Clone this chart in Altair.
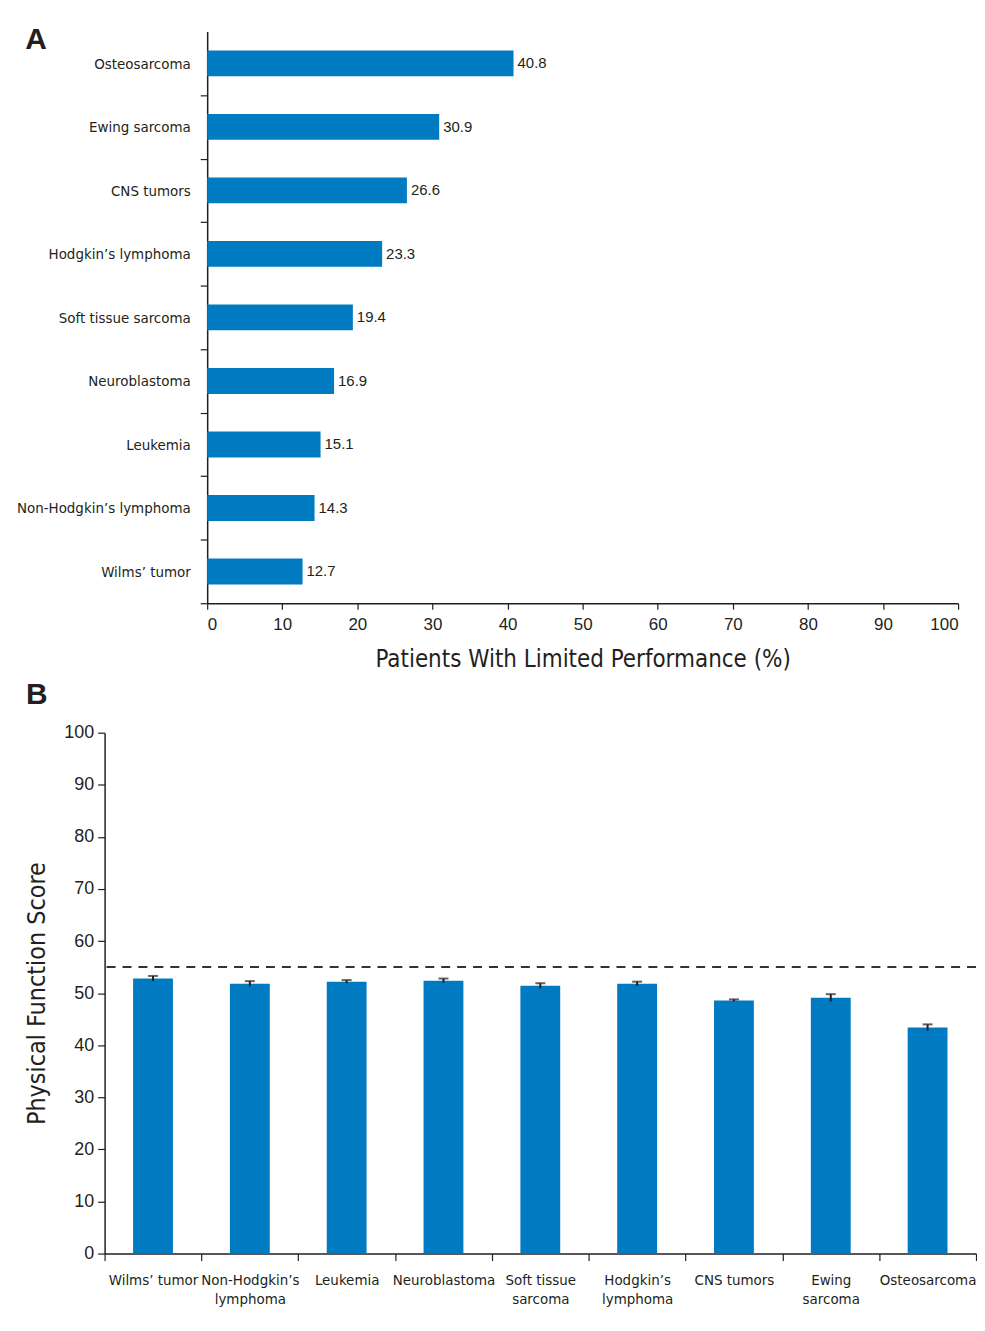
import altair as alt
import pandas as pd

# Panel A data
a_categories = ["Osteosarcoma", "Ewing sarcoma", "CNS tumors", "Hodgkin’s lymphoma",
                "Soft tissue sarcoma", "Neuroblastoma", "Leukemia",
                "Non-Hodgkin’s lymphoma", "Wilms’ tumor"]
a_values = [40.8, 30.9, 26.6, 23.3, 19.4, 16.9, 15.1, 14.3, 12.7]

# Panel B data
b_categories = ["Wilms’ tumor", "Non-Hodgkin’s lymphoma", "Leukemia", "Neuroblastoma",
                "Soft tissue sarcoma", "Hodgkin’s lymphoma", "CNS tumors",
                "Ewing sarcoma", "Osteosarcoma"]
b_means = [52.8, 51.8, 52.2, 52.4, 51.4, 51.8, 48.6, 49.1, 43.4]
b_errors = [0.5, 0.5, 0.3, 0.4, 0.5, 0.4, 0.2, 0.7, 0.6]
b_two_line = ["Non-Hodgkin’s lymphoma", "Soft tissue sarcoma",
              "Hodgkin’s lymphoma", "Ewing sarcoma"]
reference_score = [55]

BLUE = "#007BC1"
DARK = "#231F20"
NARROW = "Liberation Sans Narrow, DejaVu Sans Condensed, Arial Narrow, sans-serif"
SANS = "Liberation Sans, Arial, sans-serif"

# layout: both panels share the same origin; panel A's plot is shifted right
A_SHIFT = 103
A_WIDTH = 754

df_a = pd.DataFrame({"cat": a_categories, "val": a_values})
df_b = pd.DataFrame({"cat": b_categories, "mean": b_means, "err": b_errors})
df_b["lo"] = df_b["mean"] - df_b["err"]
df_b["hi"] = df_b["mean"] + df_b["err"]
df_ref = pd.DataFrame({"y": reference_score})

# ---------- Panel A ----------
ya = alt.Y("cat:N", sort=a_categories,
           scale=alt.Scale(paddingInner=0, paddingOuter=0),
           axis=alt.Axis(title=None, tickBand="extent", labelFont=NARROW,
                         labelFontSize=15, labelColor=DARK, labelPadding=10,
                         tickSize=7, tickColor=DARK, domainColor=DARK,
                         tickOpacity={"condition": {"test": "datum.index < 0", "value": 0},
                                      "value": 1},
                         domainWidth=1.5, tickWidth=1.2, offset=-A_SHIFT))
xa = alt.X("val:Q", scale=alt.Scale(domain=[0, 100], nice=False,
                                    range=[A_SHIFT, A_SHIFT + A_WIDTH]),
           axis=alt.Axis(title="Patients With Limited Performance (%)",
                         values=list(range(0, 101, 10)), grid=False,
                         labelFont=SANS, labelFontSize=17, labelColor=DARK,
                         titleFont=NARROW, titleFontSize=24, titleFontWeight="normal",
                         titleColor=DARK, titlePadding=16,
                         titleX=A_SHIFT + A_WIDTH / 2,
                         tickSize=6, tickColor=DARK, domainColor=DARK,
                         domainWidth=1.5, tickWidth=1.2, labelPadding=7))

bars_a = alt.Chart(df_a).mark_bar(color=BLUE, size=26).encode(x=xa, y=ya)
text_a = alt.Chart(df_a).mark_text(align="left", dx=4, font=SANS, fontSize=15,
                                   color=DARK).encode(
    x="val:Q", y=alt.Y("cat:N", sort=a_categories), text=alt.Text("val:Q", format=".1f"))

panel_a = alt.layer(bars_a, text_a).properties(
    width=A_SHIFT + A_WIDTH, height=574,
    title=alt.TitleParams("A", anchor="start", fontSize=30, font=SANS,
                          fontWeight="bold", color=DARK, offset=-12, dy=18, dx=9))

# ---------- Panel B ----------
label_expr = ("indexof(" + str(b_two_line) + ", datum.value) >= 0 ? "
              "[substring(datum.value, 0, lastindexof(datum.value, ' ')), "
              "substring(datum.value, lastindexof(datum.value, ' ') + 1)] : datum.value")

xb = alt.X("cat:N", sort=b_categories,
           scale=alt.Scale(paddingInner=0, paddingOuter=0),
           axis=alt.Axis(title=None, tickBand="extent", labelAngle=0,
                         labelExpr=label_expr, labelFont=NARROW, labelFontSize=15,
                         labelColor=DARK, labelPadding=12, labelLineHeight=19,
                         tickSize=7, tickColor=DARK, domainColor=DARK,
                         domainWidth=1.5, tickWidth=1.2))
yb = alt.Y("mean:Q", scale=alt.Scale(domain=[0, 100], nice=False),
           axis=alt.Axis(title="Physical Function Score", values=list(range(0, 101, 10)),
                         grid=False, labelFont=SANS, labelFontSize=18, labelColor=DARK,
                         titleFont=NARROW, titleFontSize=25, titleFontWeight="normal",
                         titleColor=DARK, titlePadding=14,
                         tickSize=7, tickColor=DARK, domainColor=DARK,
                         domainWidth=1.5, tickWidth=1.2, labelPadding=4))

bars_b = alt.Chart(df_b).mark_bar(color=BLUE, size=40).encode(x=xb, y=yb)
err_b = alt.Chart(df_b).mark_rule(color=DARK, strokeWidth=2).encode(
    x=alt.X("cat:N", sort=b_categories), y="lo:Q", y2="hi:Q")
cap_b = alt.Chart(df_b).mark_tick(color=DARK, thickness=2, size=10).encode(
    x=alt.X("cat:N", sort=b_categories), y="hi:Q")
ref_b = alt.Chart(df_ref).mark_rule(color="#333333", strokeWidth=2,
                                    strokeDash=[9, 7]).encode(y="y:Q")

panel_b = alt.layer(bars_b, err_b, cap_b, ref_b).properties(
    width=875, height=523,
    title=alt.TitleParams("B", anchor="start", fontSize=30, font=SANS,
                          fontWeight="bold", color=DARK, offset=14, dx=1))

chart = alt.vconcat(panel_a, panel_b, spacing=8).properties(
    padding={"left": 8, "top": 14, "right": 0, "bottom": 5}
).configure_view(stroke=None)

chart.save("out.html", embed_options={"renderer": "svg", "actions": False})
